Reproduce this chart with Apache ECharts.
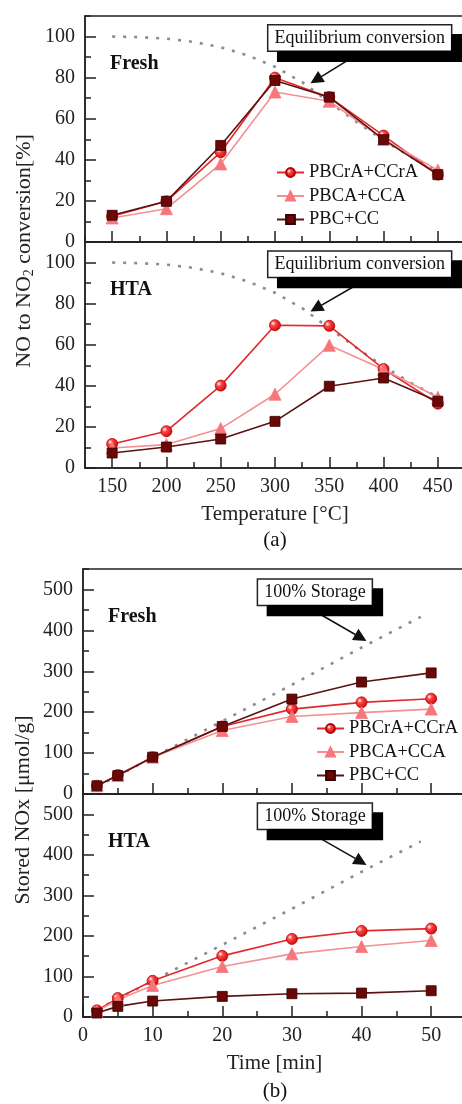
<!DOCTYPE html>
<html>
<head>
<meta charset="utf-8">
<script src="https://cdn.jsdelivr.net/npm/echarts@6/dist/echarts.min.js"></script>
<style>
  html, body { margin: 0; padding: 0; background: #fff; }
  #chart { width: 462px; height: 1104px; }
</style>
</head>
<body>
<div id="chart"></div>
<script>
// (a) NO -> NO2 conversion vs temperature
var tempC = [150, 200, 250, 300, 350, 400, 450];
var freshCrA = [12.5, 19.8, 43.7, 80, 70.5, 51.8, 32.8];
var freshCA = [11.7, 16.2, 38, 73, 68.5, 50, 35];
var freshCC = [13, 19.8, 47, 78.6, 70.5, 49.8, 32.8];
var htaCrA = [11.7, 17.9, 40.1, 69.5, 69.2, 48.2, 31.3];
var htaCA = [9.7, 11.4, 19.2, 35.9, 59.7, 47.9, 34.4];
var htaCC = [7.3, 10.2, 14.1, 22.7, 39.8, 43.8, 32.5];
// equilibrium curve (dotted)
var eqTemp = [150, 175, 200, 225, 250, 275, 300, 325, 350, 375, 400, 425, 450];
var eqConv = [100, 99.7, 99, 97.4, 94.8, 90.8, 85.3, 77.8, 68, 58.5, 49.5, 41.5, 34.5];
var tempTicks = [150, 200, 250, 300, 350, 400, 450];
var convTicks = [0, 20, 40, 60, 80, 100];

// (b) stored NOx vs time
var timeMin = [2, 5, 10, 20, 30, 40, 50];
var storFreshCrA = [20, 46.6, 90, 165, 207.5, 224, 233];
var storFreshCA = [20, 45, 90, 155, 189.5, 199, 207.5];
var storFreshCC = [20, 45, 90, 165, 232, 273.7, 296];
var storHtaCrA = [16.4, 46.7, 89.3, 150.8, 192.6, 212.3, 218];
var storHtaCA = [14, 42.6, 77.9, 124.6, 155.7, 173.8, 188.5];
var storHtaCC = [9.8, 26.2, 39.3, 50.8, 57.4, 59, 64.8];
// 100% storage line (dotted)
var fullTime = [2, 10, 20, 30, 40, 48.5];
var fullStorage = [18, 89, 178, 267, 358, 433];
var timeTicks = [0, 10, 20, 30, 40, 50];
var storTicks = [0, 100, 200, 300, 400, 500];

var names = ['PBCrA+CCrA', 'PBCA+CCA', 'PBC+CC'];

var FONT = 'Liberation Serif';
var INK = '#222';

function pairs(xs, ys) {
    var out = [];
    for (var i = 0; i < xs.length; i++) {
        out.push([xs[i], ys[i]]);
    }
    return out;
}

// minor axis draws the line + short ticks, major axis draws long ticks + labels
function axisPair(dim, gridIndex, min, max, step, majors, showLabels, name) {
    var pos = dim == 'x' ? 'bottom' : 'left';
    var tickLine = {color: INK, width: 1.5};
    var minor = {
        type: 'value', gridIndex: gridIndex, position: pos, min: min, max: max, interval: step,
        splitLine: {show: false},
        axisLine: {show: true, onZero: false, lineStyle: tickLine},
        axisTick: {show: true, inside: true, length: 6, lineStyle: tickLine},
        axisLabel: {show: false}
    };
    var major = {
        type: 'value', gridIndex: gridIndex, position: pos, min: min, max: max,
        splitLine: {show: false},
        axisLine: {show: false, onZero: false},
        axisTick: {show: true, inside: true, length: 11, customValues: majors, lineStyle: tickLine},
        axisLabel: {
            show: showLabels, customValues: majors,
            fontFamily: FONT, fontSize: 20, color: INK,
            margin: dim == 'x' ? 9 : 10
        }
    };
    if (name) {
        major.name = name;
        major.nameLocation = 'middle';
        major.nameGap = 36;
        major.nameTextStyle = {fontFamily: FONT, fontSize: 21, color: INK};
    }
    return [minor, major];
}

var crAGrad = new echarts.graphic.RadialGradient(0.35, 0.35, 0.7, [
    {offset: 0, color: '#ffffff'},
    {offset: 0.3, color: '#ff4444'},
    {offset: 1, color: '#c40a0a'}
]);

var styles = {
    'PBCrA+CCrA': {symbol: 'circle', size: 11, color: crAGrad, border: '#b80000', line: '#e3282c'},
    'PBCA+CCA': {symbol: 'triangle', size: 12, color: '#f6777b', border: '#f6777b', line: '#f39093'},
    'PBC+CC': {symbol: 'rect', size: 10, color: '#6a0707', border: '#3a0000', line: '#5c1212'}
};

function dataSeries(name, xs, ys, axisIdx) {
    var s = styles[name];
    return {
        name: name, type: 'line', xAxisIndex: axisIdx, yAxisIndex: axisIdx,
        data: pairs(xs, ys), symbol: s.symbol, symbolSize: s.size, showSymbol: true,
        z: 3,
        lineStyle: {color: s.line, width: 1.6},
        itemStyle: {color: s.color, borderColor: s.border, borderWidth: 0.8}
    };
}

function guideSeries(xs, ys, axisIdx, boxText, boxAt, arrowFrom, arrowTo) {
    return {
        name: 'guide', type: 'line', xAxisIndex: axisIdx, yAxisIndex: axisIdx,
        data: pairs(xs, ys), symbol: 'none', silent: true, z: 2,
        lineStyle: {color: '#8c8c8c', width: 2.6, type: [3, 8]},
        markPoint: {
            silent: true, symbol: 'rect', symbolSize: 1,
            itemStyle: {color: 'rgba(0,0,0,0)'},
            label: {
                show: true, position: 'inside', formatter: boxText,
                fontFamily: FONT, fontSize: 18, color: '#111',
                backgroundColor: '#fff', borderColor: '#222', borderWidth: 1.5,
                padding: [4, 6, 3, 6],
                shadowColor: '#000', shadowBlur: 0, shadowOffsetX: 10, shadowOffsetY: 10
            },
            data: [{coord: boxAt}]
        },
        markLine: {
            silent: true, symbol: ['none', 'triangle'], symbolSize: 13,
            lineStyle: {color: '#111', width: 1.5, type: 'solid'},
            label: {show: false},
            data: [[{coord: arrowFrom}, {coord: arrowTo}]]
        }
    };
}

var chart = echarts.init(document.getElementById('chart'));

var xAxes = [].concat(
    axisPair('x', 0, 125, 475, 25, tempTicks, false),
    axisPair('x', 1, 125, 475, 25, tempTicks, true, 'Temperature [\u00b0C]'),
    axisPair('x', 2, 0, 55, 5, timeTicks, false),
    axisPair('x', 3, 0, 55, 5, timeTicks, true, 'Time [min]')
);
var yAxes = [].concat(
    axisPair('y', 0, 0, 110, 10, convTicks, true),
    axisPair('y', 1, 0, 110, 10, convTicks, true),
    axisPair('y', 2, 0, 550, 50, storTicks, true),
    axisPair('y', 3, 0, 550, 50, storTicks, true)
);

// plots run past the right edge of the picture, so no bound fitting
var gridBox = {
    show: true, borderColor: INK, borderWidth: 1.5, backgroundColor: 'transparent',
    outerBoundsMode: 'none', containLabel: false
};

var legendBase = {
    orient: 'vertical', itemGap: 4.5, itemWidth: 27, itemHeight: 11, padding: 0,
    selectedMode: false, data: names,
    textStyle: {fontFamily: FONT, fontSize: 18.5, color: '#111'}
};

function panelTitle(text, left, top, size, bold, align) {
    return {
        text: text, left: left, top: top, padding: 0, textAlign: align || 'left',
        textStyle: {fontFamily: FONT, fontSize: size, fontWeight: bold ? 'bold' : 'normal', color: '#111'}
    };
}

var option = {
    animation: false,
    backgroundColor: '#fff',
    title: [
        panelTitle('Fresh', 110, 54, 20, true),
        panelTitle('HTA', 110, 280, 20, true),
        panelTitle('Fresh', 108, 607, 20, true),
        panelTitle('HTA', 108, 832, 20, true),
        panelTitle('(a)', 275, 530, 21, false, 'center'),
        panelTitle('(b)', 275, 1081, 21, false, 'center')
    ],
    legend: [
        Object.assign({}, legendBase, {left: 276, top: 163}),
        Object.assign({}, legendBase, {left: 316, top: 719})
    ],
    grid: [
        Object.assign({left: 85, top: 16, width: 380, height: 226}, gridBox),
        Object.assign({left: 85, top: 242, width: 380, height: 226}, gridBox),
        Object.assign({left: 83, top: 569, width: 383, height: 225}, gridBox),
        Object.assign({left: 83, top: 794, width: 383, height: 223}, gridBox)
    ],
    xAxis: xAxes,
    yAxis: yAxes,
    graphic: [
        {
            type: 'text', x: 24, y: 251, rotation: Math.PI / 2, silent: true,
            style: {
                text: '{n|NO to NO}{s|2}{n| conversion[%]}',
                align: 'center', verticalAlign: 'middle',
                rich: {
                    n: {fontFamily: FONT, fontSize: 22, fill: INK, lineHeight: 24},
                    s: {fontFamily: FONT, fontSize: 14, fill: INK, lineHeight: 8, verticalAlign: 'bottom'}
                }
            }
        },
        {
            type: 'text', x: 23, y: 810, rotation: Math.PI / 2, silent: true,
            style: {
                text: 'Stored NOx [\u03bcmol/g]', align: 'center', verticalAlign: 'middle',
                fontFamily: FONT, fontSize: 22, fill: INK
            }
        }
    ],
    series: [
        guideSeries(eqTemp, eqConv, 0, 'Equilibrium conversion', [378, 99.3], [371.8, 90], [337.8, 78.9]),
        dataSeries('PBCrA+CCrA', tempC, freshCrA, 0),
        dataSeries('PBCA+CCA', tempC, freshCA, 0),
        dataSeries('PBC+CC', tempC, freshCC, 0),

        guideSeries(eqTemp, eqConv, 2, 'Equilibrium conversion', [378, 99.2], [371.8, 88.1], [337.8, 77.7]),
        dataSeries('PBCrA+CCrA', tempC, htaCrA, 2),
        dataSeries('PBCA+CCA', tempC, htaCA, 2),
        dataSeries('PBC+CC', tempC, htaCC, 2),

        guideSeries(fullTime, fullStorage, 4, '100% Storage', [33.3, 493], [34, 440], [39.9, 382]),
        dataSeries('PBCrA+CCrA', timeMin, storFreshCrA, 4),
        dataSeries('PBCA+CCA', timeMin, storFreshCA, 4),
        dataSeries('PBC+CC', timeMin, storFreshCC, 4),

        guideSeries(fullTime, fullStorage, 6, '100% Storage', [33.3, 495], [34, 441], [39.9, 383]),
        dataSeries('PBCrA+CCrA', timeMin, storHtaCrA, 6),
        dataSeries('PBCA+CCA', timeMin, storHtaCA, 6),
        dataSeries('PBC+CC', timeMin, storHtaCC, 6)
    ]
};
chart.setOption(option);
</script>
</body>
</html>
